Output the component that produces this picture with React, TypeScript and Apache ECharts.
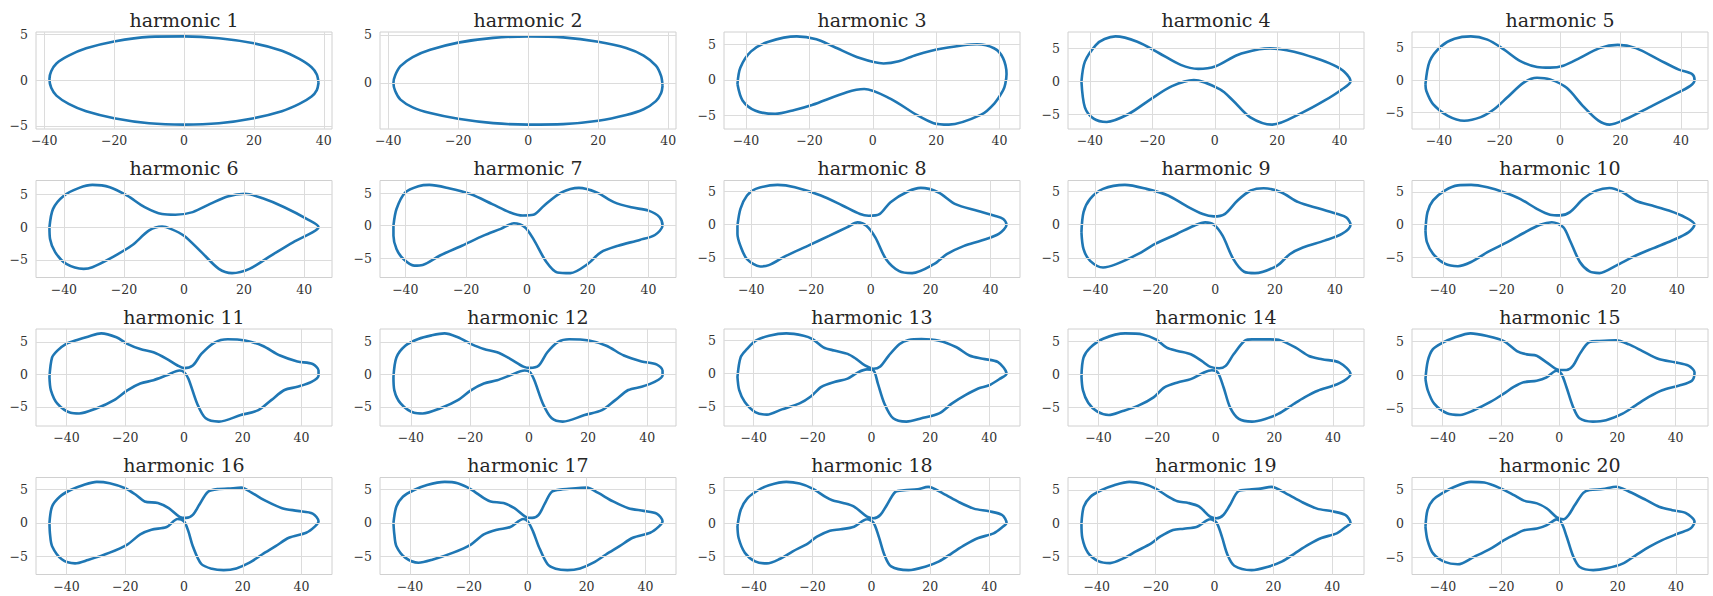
import React, { useEffect, useRef } from "react";
import * as echarts from "echarts";

const TITLES = [
  "harmonic 1", "harmonic 2", "harmonic 3", "harmonic 4", "harmonic 5",
  "harmonic 6", "harmonic 7", "harmonic 8", "harmonic 9", "harmonic 10",
  "harmonic 11", "harmonic 12", "harmonic 13", "harmonic 14", "harmonic 15",
  "harmonic 16", "harmonic 17", "harmonic 18", "harmonic 19", "harmonic 20",
];
const X_TICKS = [-40, -20, 0, 20, 40];
const Y_TICKS = [-5, 0, 5];

const H1 = [[38.5,-0.3],[38,0.6],[36.5,1.4],[33,2.3],[28,3.2],[20,4.0],[10,4.55],[0,4.75],[-10,4.7],[-20,4.2],[-28,3.45],[-33,2.65],[-36.5,1.8],[-38,0.95],[-38.5,0.1],[-38,-0.85],[-36.5,-1.7],[-33,-2.6],[-28,-3.4],[-20,-4.15],[-10,-4.7],[0,-4.85],[10,-4.7],[20,-4.15],[28,-3.4],[33,-2.6],[36.5,-1.8],[38,-1.1]];
const H2 = [[38.4,-0.3],[38,0.7],[36.5,1.8],[33,2.85],[28,3.65],[20,4.3],[10,4.75],[0,4.85],[-10,4.7],[-20,4.2],[-28,3.45],[-33,2.7],[-36.5,1.75],[-38,0.8],[-38.5,0],[-38,-0.85],[-36.5,-1.75],[-33,-2.55],[-28,-3.15],[-20,-3.75],[-10,-4.2],[0,-4.35],[10,-4.3],[20,-3.95],[28,-3.35],[33,-2.75],[36.5,-1.9],[38,-1.05]];
const H3 = [[-42.7,-0.6],[-41.8,1.7],[-38.4,4.0],[-32.9,5.35],[-24,6.1],[-17.8,5.7],[-12.3,4.65],[-4.1,3.05],[3.4,2.3],[8.2,2.6],[13.7,3.5],[21.9,4.4],[32.9,5.0],[38.4,4.4],[41.1,3.05],[42.2,0.8],[41.8,-0.6],[41.1,-1.5],[38.4,-3.3],[34.2,-4.9],[24,-6.3],[19.2,-6.1],[13.7,-4.9],[5.5,-2.65],[-2.7,-1.3],[-8.2,-1.75],[-19.2,-3.55],[-24.7,-4.25],[-30.8,-4.8],[-37,-4.35],[-41.1,-2.9]];
const H4 = [[-42.7,0],[-41.6,3.0],[-38.1,5.5],[-35.3,6.4],[-31.8,6.8],[-24.8,6.0],[-17.9,4.3],[-10.9,2.5],[-5.3,1.9],[0.3,2.3],[7.3,4.0],[14.2,4.85],[17.7,5.0],[25.4,4.5],[32.4,3.5],[37.9,2.5],[41.4,1.5],[43.5,0],[40.7,-1.2],[35.1,-2.9],[28.2,-4.65],[18.4,-6.5],[11.4,-5.4],[5.9,-2.9],[1.7,-1.2],[-6.7,0.2],[-13.7,-0.7],[-20.6,-2.7],[-27.6,-4.9],[-34.6,-6.1],[-38.8,-5.6],[-41.6,-3.9]];
const H5 = [[-44.5,-0.65],[-43.1,2.9],[-39.3,5.2],[-34.9,6.35],[-29.5,6.7],[-24,6.2],[-18.6,4.7],[-13.1,2.9],[-7.6,2.0],[-3.3,1.9],[1.1,2.2],[6.6,3.4],[13.1,4.9],[19.1,5.4],[25.1,4.9],[32.8,3.1],[39.3,1.6],[43.7,0.9],[44.5,0],[43.1,-0.9],[37.1,-2.4],[29.5,-4.2],[21.8,-6.0],[16.4,-6.85],[12.6,-6.2],[7.6,-4.0],[2.2,-1.2],[-3.3,0.1],[-7.6,0.35],[-12,-0.4],[-17.5,-2.7],[-21.8,-4.5],[-26.2,-5.7],[-31.7,-6.25],[-37.1,-5.5],[-42,-3.7],[-44.2,-1.7]];
const H6 = [[-44.8,0],[-43.6,2.8],[-40,4.8],[-34.9,6.0],[-30.5,6.45],[-24.7,6.1],[-18.9,4.8],[-13.1,3.05],[-7.3,2.0],[-2.9,1.9],[2.9,2.3],[8.7,3.55],[14.5,4.7],[20.3,5.1],[26.2,4.4],[33.4,3.05],[40.7,1.3],[44.8,0],[42.9,-0.75],[36.3,-2.3],[29.1,-4.3],[21.8,-6.35],[16,-7.0],[11.6,-6.35],[5.8,-3.8],[0,-1.3],[-4.4,-0.25],[-7.3,0.1],[-11.6,-0.5],[-17.4,-2.8],[-24.7,-4.8],[-30.5,-6.1],[-33.4,-6.35],[-39.2,-5.6],[-42.9,-3.8],[-44.6,-1.8]];
const H7 = [[-43.9,0],[-42.9,2.55],[-40,5.1],[-35.7,6.05],[-32.1,6.25],[-25.7,5.75],[-18.6,4.85],[-11.4,3.3],[-5.7,2.05],[-1.4,1.55],[2.1,1.65],[5.7,3.1],[11.4,5.1],[17.1,5.8],[22.9,5.1],[28.6,3.6],[34.3,2.8],[40,2.3],[43.6,1.3],[44.6,0],[42.1,-1.45],[37.1,-2.2],[30,-3.1],[24.3,-4.1],[20,-5.9],[14.3,-7.3],[10,-7.2],[6.4,-5.6],[2.1,-2.05],[-0.7,-0.25],[-4.3,0.35],[-8.6,-0.5],[-14.3,-1.55],[-21.4,-3.1],[-28.6,-4.6],[-34.3,-6.05],[-37.1,-6.15],[-40.7,-5.1],[-42.9,-3.6],[-43.9,-1.55]];
const H8 = [[-44.6,-0.15],[-43.6,2.4],[-41.4,4.4],[-38.5,5.4],[-31.2,6.0],[-25.4,5.65],[-16.7,4.4],[-9.5,2.9],[-3.6,1.6],[-0.7,1.35],[2.9,1.6],[6.6,3.4],[12.4,5.0],[16.7,5.55],[22.5,4.9],[28.3,3.1],[35.6,2.1],[41.4,1.35],[44.3,0.85],[45.4,0],[42.8,-1.4],[37,-2.4],[31.2,-3.2],[25.4,-4.45],[21.1,-5.95],[13.8,-7.3],[9.5,-7.0],[5.1,-5.2],[1.5,-1.9],[-1.5,-0.15],[-4.4,0.35],[-8,-0.4],[-13.8,-1.65],[-21.1,-3.2],[-28.4,-4.7],[-34.1,-6.1],[-37,-6.3],[-41.4,-5.2],[-43.6,-3.2],[-44.6,-1.4]];
const H9 = [[-44.6,-1.15],[-43.9,1.9],[-41.7,3.9],[-37.4,5.4],[-30.1,6.0],[-22.9,5.4],[-15.7,4.4],[-9.9,2.9],[-4.1,1.6],[-0.4,1.25],[3.2,1.6],[7.5,3.65],[11.9,5.15],[16.2,5.5],[22,4.9],[27.8,3.4],[35,2.4],[40.9,1.6],[43.8,1.1],[45.2,0],[42.3,-1.4],[36.5,-2.4],[29.3,-3.45],[24.9,-4.45],[20.6,-6.2],[13.3,-7.3],[9.7,-7.1],[6.1,-5.2],[2.5,-1.65],[-0.4,0],[-3.3,0.35],[-7,-0.15],[-12.8,-1.4],[-20,-2.9],[-25.8,-4.45],[-33,-5.95],[-37.4,-6.45],[-41.7,-5.45],[-43.9,-3.7]];
const H10 = [[-46,-0.9],[-45.3,1.9],[-43.4,3.7],[-39.4,5.2],[-34.9,6.0],[-30.4,6.07],[-24.8,5.7],[-19.2,4.95],[-13.5,3.9],[-7.9,2.4],[-3.4,1.5],[0,1.4],[3.4,1.9],[7.9,3.9],[12.4,5.2],[16.9,5.6],[21.4,4.95],[25.9,3.65],[31.5,2.9],[37.2,2.15],[42.8,1.1],[46,0],[43.9,-1.2],[38.3,-2.45],[31.5,-3.7],[24.8,-5.0],[19.2,-6.3],[13.5,-7.45],[10.1,-7.2],[6.8,-5.75],[3.4,-2.45],[1.1,-0.4],[-2.8,0.35],[-6.8,-0.05],[-12.4,-1.3],[-18,-2.7],[-24.8,-4.25],[-30.4,-5.75],[-34.9,-6.4],[-39.4,-6.0],[-43.4,-4.5],[-45.5,-2.7]];
const H11 = [[-45.8,-0.4],[-44.9,2.6],[-43.1,3.65],[-40.1,4.7],[-36.4,5.3],[-32.7,5.8],[-28.2,6.3],[-23,5.7],[-19.3,4.7],[-14.9,3.9],[-10.4,3.4],[-5.9,2.4],[-2.2,1.37],[0,0.96],[3,1.37],[5.9,3.15],[10.4,4.9],[14.9,5.4],[20.8,5.2],[26.7,4.4],[32.7,2.9],[38.6,2.0],[43.8,1.6],[45.8,0.6],[45.8,-0.15],[43.4,-1.15],[38.6,-1.9],[34.2,-2.4],[29.7,-3.95],[25.3,-5.5],[19.3,-6.25],[11.9,-7.25],[7.4,-6.75],[4.5,-4.5],[1.5,-0.65],[0,0.35],[-1.5,0.6],[-5.9,-0.15],[-10.4,-0.9],[-14.9,-1.4],[-19.3,-2.45],[-23.8,-3.95],[-29.7,-5.2],[-35.7,-6.0],[-38.6,-5.9],[-43.1,-4.5],[-45.3,-2.45]];
const H12 = [[-45.9,-0.4],[-44.9,2.6],[-41.9,4.4],[-37.5,5.45],[-33,6.0],[-28.6,6.3],[-24.1,5.7],[-19.7,4.7],[-15.3,3.9],[-10.8,3.4],[-6.4,2.4],[-1.9,1.2],[0.3,1.0],[3.3,1.37],[6.2,3.4],[9.9,5.0],[13.6,5.4],[20.3,5.2],[26.2,4.4],[32.1,2.9],[38.1,2.0],[43.3,1.5],[45.2,0.6],[45.2,-0.15],[42.5,-1.15],[38.1,-1.9],[33.6,-2.4],[29.2,-3.95],[24.7,-5.5],[18.8,-6.25],[11.4,-7.25],[7.7,-6.75],[4.7,-4.5],[1.8,-0.9],[0.3,0.35],[-1.5,0.6],[-6.4,-0.15],[-10.8,-0.9],[-15.3,-1.4],[-19.7,-2.45],[-24.1,-3.95],[-30,-5.2],[-36,-6.0],[-38.9,-5.9],[-43.4,-4.5],[-45.6,-2.45]];
const H13 = [[-45.5,-0.5],[-44.4,2.5],[-42.2,3.75],[-39.3,5.0],[-34.8,5.75],[-28.9,6.1],[-23,5.75],[-20,5.25],[-16.3,4.0],[-12.6,3.5],[-8.1,3.0],[-5.2,2.25],[-2.2,1.25],[0.7,0.75],[3,1.1],[5.9,2.75],[9.6,4.5],[12.6,5.1],[17,5.25],[23,5.0],[28.9,4.0],[33.3,2.75],[37.8,2.25],[43,1.75],[45.9,0],[43.7,-0.75],[40,-1.75],[36.3,-2.25],[31.9,-3.25],[27.4,-4.5],[23,-6.0],[17,-6.75],[11.9,-7.25],[7.4,-6.75],[4.4,-4.5],[2.2,-1.5],[0.7,0.5],[-1.5,0.65],[-4.4,0.25],[-8.1,-0.75],[-12.6,-1.25],[-17,-2.0],[-20.7,-3.5],[-24.4,-4.5],[-30.4,-5.4],[-35.5,-6.2],[-39.5,-5.8],[-43,-4.3],[-44.9,-2.5]];
const H14 = [[-45.8,-0.25],[-45.1,2.5],[-42.8,4.0],[-38.4,5.35],[-30.9,6.15],[-24.9,6.0],[-20.4,5.25],[-16.7,4.0],[-13,3.5],[-8.5,3.0],[-4.8,2.0],[-1.8,1.1],[1.2,0.9],[3.4,1.25],[6.1,3.0],[10.1,5.1],[12.4,5.25],[18.4,5.25],[22.1,5.1],[27.3,4.0],[31.8,2.75],[36.3,2.25],[42.2,1.75],[46,0],[43.7,-1.0],[40,-1.75],[34.8,-2.5],[30.3,-3.5],[26.6,-4.5],[21.3,-6.0],[16.9,-6.75],[12.4,-7.15],[7.9,-6.75],[4.9,-5.0],[2.7,-2.0],[0.7,0.25],[-1.3,0.6],[-4,0.25],[-8.5,-0.75],[-13,-1.25],[-17.5,-2.0],[-21.2,-3.5],[-26.4,-4.75],[-32,-5.6],[-36.5,-6.15],[-40.5,-5.6],[-43.5,-4.3],[-45.3,-2.4]];
const H15 = [[-45.9,-0.6],[-45.1,2.1],[-43.4,3.85],[-40,4.85],[-36.1,5.6],[-30.4,6.25],[-24.7,5.85],[-19,5.1],[-14.5,3.6],[-11.1,3.1],[-7.7,2.9],[-4.3,1.9],[0,0.75],[2.5,0.75],[4.8,1.4],[7,3.1],[10.4,4.95],[13.8,5.1],[19.5,5.2],[24,4.6],[28.6,3.6],[34.2,2.4],[39.9,1.9],[44.4,1.4],[46.5,0.4],[45.6,-0.85],[41,-1.6],[35.4,-2.3],[30.8,-3.3],[26.3,-4.55],[21.8,-5.8],[16.1,-6.8],[11.6,-7.0],[7,-6.5],[4.8,-4.8],[2.5,-1.8],[0.8,0.15],[-0.9,0.65],[-4.3,-0.35],[-7.7,-0.85],[-12.2,-1.1],[-15.6,-1.8],[-19,-2.8],[-23.6,-4.05],[-29.3,-5.3],[-34,-6.0],[-38.5,-5.75],[-42.9,-4.3],[-45.1,-2.3]];
const H16 = [[-45.8,0],[-44.9,2.45],[-42.3,3.9],[-38.6,4.9],[-34.2,5.65],[-29.7,6.1],[-25.3,5.9],[-20,5.15],[-16.3,4.15],[-13.4,3.2],[-8.9,2.95],[-5.2,2.2],[-1.5,0.9],[0.7,0.75],[3,1.2],[5.2,2.7],[8.2,4.65],[11.9,5.05],[15,5.1],[19.5,5.25],[23,4.5],[28.2,3.2],[33.4,2.2],[38.6,1.8],[43.8,1.4],[45.8,0.25],[44.6,-0.5],[41.6,-1.45],[35.7,-2.2],[31.2,-3.45],[26.7,-4.65],[22.3,-5.9],[17.8,-6.75],[13.5,-7.0],[9.5,-6.8],[5.9,-6.1],[3,-3.45],[1.5,-1.25],[0,0.25],[-2.2,0.6],[-5.9,-0.6],[-11.1,-1.0],[-14.9,-1.7],[-19.3,-3.2],[-25.3,-4.4],[-32.7,-5.5],[-37.1,-6.0],[-41.6,-5.4],[-44.9,-3.45],[-45.6,-1.7]];
const H17 = [[-45.6,0],[-44.6,2.45],[-42.4,3.9],[-38.6,4.9],[-34.2,5.65],[-28.2,6.1],[-23.8,5.9],[-19.3,5.0],[-14.9,3.7],[-12.6,3.2],[-8.2,2.95],[-4.5,2.2],[-0.7,0.9],[1.5,0.75],[3.7,1.2],[5.9,2.95],[8.2,4.65],[11.9,5.0],[16.3,5.15],[20.1,5.25],[23.8,4.5],[29,3.2],[34.2,2.2],[39.4,1.8],[43.8,1.4],[45.8,0.25],[44.6,-0.5],[41.6,-1.45],[35.7,-2.2],[31.2,-3.45],[26.7,-4.65],[22.3,-5.9],[17.8,-6.75],[13.5,-7.0],[9.5,-6.8],[6.7,-6.1],[3.7,-3.45],[1.8,-1.25],[0,0.25],[-1.5,0.6],[-5.9,-0.6],[-10.4,-1.0],[-14.9,-1.7],[-19.3,-3.2],[-25.3,-4.4],[-32.7,-5.5],[-37.1,-5.9],[-41.6,-5.15],[-44.6,-3.45],[-45.3,-1.7]];
const H18 = [[-45.5,-0.4],[-44.4,2.0],[-42.2,3.7],[-38.5,4.95],[-34.8,5.7],[-28.9,6.2],[-24.4,5.95],[-20,5.2],[-15.6,3.95],[-13.3,3.45],[-9.6,3.05],[-5.9,2.5],[-1.5,1.0],[0.7,0.75],[3,1.25],[5.2,2.7],[8.1,4.7],[11.1,4.95],[15.6,5.1],[19.3,5.45],[24.4,4.45],[29.6,3.2],[34.8,2.2],[40,1.8],[44.4,1.25],[45.9,0.1],[44.4,-0.6],[41.5,-1.5],[36.3,-2.2],[31.9,-3.2],[27.4,-4.45],[23,-5.7],[18.5,-6.45],[12.6,-7.0],[6.7,-6.45],[4.4,-4.7],[2.5,-2.0],[0.7,0.1],[-1.5,0.6],[-5.9,-0.5],[-10.4,-0.9],[-14.1,-1.1],[-18.5,-2.0],[-21.5,-3.0],[-26.7,-4.2],[-31,-5.3],[-35.5,-6.0],[-39.5,-5.7],[-43,-4.4],[-45.1,-2.2]];
const H19 = [[-45.2,0],[-44.4,2.5],[-42.2,3.95],[-38.5,4.95],[-34.1,5.7],[-28.9,6.2],[-24.4,5.95],[-20,5.2],[-15.6,3.95],[-12.6,3.3],[-8.9,3.05],[-5.2,2.5],[-1.5,1.0],[0.7,0.75],[3,1.25],[5.2,2.7],[8.1,4.8],[11.9,5.05],[15.6,5.2],[19.3,5.45],[24.4,4.45],[29.6,3.2],[34.8,2.2],[40,1.8],[44.4,1.25],[46.2,0.1],[44.4,-0.6],[41.5,-1.5],[36.3,-2.2],[31.9,-3.2],[27.4,-4.45],[23,-5.7],[18.5,-6.45],[12.6,-7.0],[6.7,-6.35],[4.4,-4.7],[2.5,-2.0],[0.7,0.1],[-1.5,0.6],[-5.9,-0.5],[-10.4,-0.8],[-14.1,-1.0],[-18.5,-2.0],[-21.5,-3.0],[-26.7,-4.2],[-31,-5.25],[-35.5,-5.95],[-39.5,-5.65],[-43,-4.4],[-44.9,-2.2]];
const H20 = [[-46,-0.5],[-45.3,1.95],[-43.4,3.45],[-40,4.5],[-36,5.4],[-30.4,6.1],[-25.8,6.0],[-20.2,5.15],[-15.6,4.15],[-12.2,3.35],[-7.7,2.95],[-4.3,2.2],[-0.9,0.9],[1.4,0.6],[3.1,1.2],[5.3,2.7],[8.2,4.5],[10.4,4.9],[14.9,5.05],[19.5,5.4],[24,4.65],[29.7,3.45],[34.2,2.45],[38.7,1.95],[43.3,1.55],[46.4,0.25],[45,-0.75],[41,-1.45],[35.3,-2.45],[30.8,-3.45],[26.3,-4.65],[21.7,-5.9],[16.1,-6.6],[11.6,-6.85],[7,-6.4],[4.8,-4.9],[2.5,-1.95],[0.8,0],[-0.9,0.6],[-4.3,-0.25],[-7.7,-0.75],[-12.2,-1.0],[-15.6,-1.7],[-19,-2.45],[-23.6,-3.7],[-29.3,-4.9],[-34.9,-6.0],[-39.4,-5.65],[-43.4,-4.4],[-45.3,-2.45]];

const CURVES = [H1, H2, H3, H4, H5, H6, H7, H8, H9, H10, H11, H12, H13, H14, H15, H16, H17, H18, H19, H20];

const COL_LEFT = 36;
const COL_STEP = 344;
const PLOT_W = 296;
const ROW_TOP = 32;
const ROW_STEP = 148.5;
const PLOT_H = 97;
const LINE_COLOR = "#1f77b4";
const GRID_COLOR = "#dcdcdc";
const FRAME_COLOR = "#d0d0d0";
const TEXT_COLOR = "#333333";
const FONT = "'DejaVu Serif', serif";

const fmt = (v: number) => (v < 0 ? "\u2212" + Math.abs(v) : String(v));

function buildOption() {
  const grid: any[] = [];
  const xAxis: any[] = [];
  const yAxis: any[] = [];
  const series: any[] = [];
  const graphic: any[] = [];

  CURVES.forEach((pts, i) => {
    const r = Math.floor(i / 5);
    const c = i % 5;
    const left = COL_LEFT + c * COL_STEP;
    const top = ROW_TOP + r * ROW_STEP;
    const xs = pts.map((p) => p[0]);
    const ys = pts.map((p) => p[1]);
    const x0 = Math.min(...xs), x1 = Math.max(...xs);
    const y0 = Math.min(...ys), y1 = Math.max(...ys);
    const dx = (x1 - x0) * 0.05, dy = (y1 - y0) * 0.05;
    const xmin = x0 - dx, xmax = x1 + dx, ymin = y0 - dy, ymax = y1 + dy;
    const xt = X_TICKS.filter((v) => v >= xmin && v <= xmax);
    const yt = Y_TICKS.filter((v) => v >= ymin && v <= ymax);

    grid.push({
      left, top, width: PLOT_W, height: PLOT_H,
      show: true, borderColor: FRAME_COLOR, borderWidth: 1,
      backgroundColor: "transparent", containLabel: false,
    });
    xAxis.push({
      type: "value", gridIndex: i, min: xmin, max: xmax,
      axisLine: { show: false }, axisTick: { show: false, customValues: xt },
      splitLine: { show: false },
      axisLabel: {
        customValues: xt, formatter: fmt, fontFamily: FONT, fontSize: 12.5,
        color: TEXT_COLOR, margin: 5,
      },
    });
    yAxis.push({
      type: "value", gridIndex: i, min: ymin, max: ymax,
      axisLine: { show: false }, axisTick: { show: false, customValues: yt },
      splitLine: { show: false },
      axisLabel: {
        customValues: yt, formatter: fmt, fontFamily: FONT, fontSize: 12.5,
        color: TEXT_COLOR, margin: 8,
      },
    });
    series.push({
      type: "line", xAxisIndex: i, yAxisIndex: i, data: pts,
      showSymbol: false, silent: true, z: 1,
      lineStyle: { opacity: 0 },
      markLine: {
        silent: true, symbol: ["none", "none"], label: { show: false },
        lineStyle: { color: GRID_COLOR, width: 1, type: "solid" },
        emphasis: { disabled: true },
        data: [...xt.map((v) => ({ xAxis: v })), ...yt.map((v) => ({ yAxis: v }))],
      },
    });
    series.push({
      type: "line", xAxisIndex: i, yAxisIndex: i,
      data: [...pts, pts[0]], smooth: 0.3, showSymbol: false, silent: true, z: 3,
      lineStyle: { color: LINE_COLOR, width: 2.6 },
    });
    graphic.push({
      type: "text", x: left + PLOT_W / 2, y: top - 12.5, silent: true,
      style: {
        text: TITLES[i], fontFamily: FONT, fontSize: 19, fill: "#262626",
        align: "center", verticalAlign: "middle",
      },
    });
  });

  return { animation: false, backgroundColor: "#ffffff", grid, xAxis, yAxis, series, graphic };
}

export default function App() {
  const ref = useRef<HTMLDivElement>(null);
  useEffect(() => {
    if (!ref.current) return;
    const chart = echarts.init(ref.current, undefined, { renderer: "svg" });
    chart.setOption(buildOption() as any);
    return () => chart.dispose();
  }, []);
  return (
    <div
      ref={ref}
      style={{ position: "absolute", left: 0, top: 0, width: 1713, height: 596, background: "#fff" }}
    />
  );
}
